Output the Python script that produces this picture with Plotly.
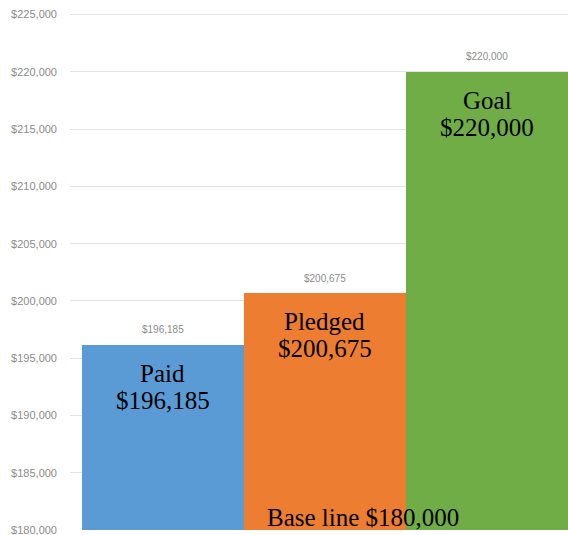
import plotly.graph_objects as go

categories = ["Paid", "Pledged", "Goal"]
values = [196185, 200675, 220000]
colors = ["#5b9bd5", "#ed7d31", "#70ad47"]
tick_vals = [180000, 185000, 190000, 195000, 200000, 205000, 210000, 215000, 220000, 225000]
tick_text = ["$180,000", "$185,000", "$190,000", "$195,000", "$200,000",
             "$205,000", "$210,000", "$215,000", "$220,000", "$225,000"]
baseline_value = 180000

fig = go.Figure()
fig.add_trace(go.Bar(
    x=categories,
    y=[v - baseline_value for v in values],
    base=baseline_value,
    marker=dict(color=colors, line=dict(width=0)),
    hoverinfo="skip",
    showlegend=False,
))

serif = dict(family="Liberation Serif, Times New Roman, serif", size=25, color="#000000")
annotations = []
for c, v in zip(categories, values):
    s = "${:,}".format(v)
    annotations.append(dict(
        x=c, y=v, xref="x", yref="y", text=s, showarrow=False,
        yanchor="middle", yshift=15,
        font=dict(family="Liberation Sans Narrow, Arial Narrow, Liberation Sans, sans-serif",
                  size=10, color="#8c8c8c"),
    ))
    annotations.append(dict(
        x=c, y=v, xref="x", yref="y", text=c, showarrow=False,
        yanchor="top", yshift=-13, font=serif,
    ))
    annotations.append(dict(
        x=c, y=v, xref="x", yref="y", text=s, showarrow=False,
        yanchor="top", yshift=-40, font=serif,
    ))
annotations.append(dict(
    x=0.588, y=0, xref="paper", yref="paper", text="Base line ${:,}".format(baseline_value),
    showarrow=False, yanchor="bottom", yshift=-3, font=serif,
))

fig.update_layout(
    width=568, height=535,
    margin=dict(l=70, r=0, t=10, b=5),
    paper_bgcolor="white", plot_bgcolor="white",
    bargap=0,
    annotations=annotations,
    xaxis=dict(range=[-0.574, 2.5], showticklabels=False, showgrid=False,
               zeroline=False, showline=False, ticks=""),
    yaxis=dict(range=[180000, 225400], tickvals=tick_vals, ticktext=tick_text,
               showgrid=True, gridcolor="#e3e3e3", gridwidth=1, zeroline=False,
               showline=False, ticks="", ticklabelstandoff=12, ticklabeloverflow="allow",
               tickfont=dict(family="Liberation Sans Narrow, Arial Narrow, Liberation Sans, sans-serif",
                             size=11, color="#8c8c8c")),
)

fig.write_html(
    "out.html",
    config={"displayModeBar": False},
    post_script="document.body.style.margin='0';document.body.style.overflow='hidden';",
)
